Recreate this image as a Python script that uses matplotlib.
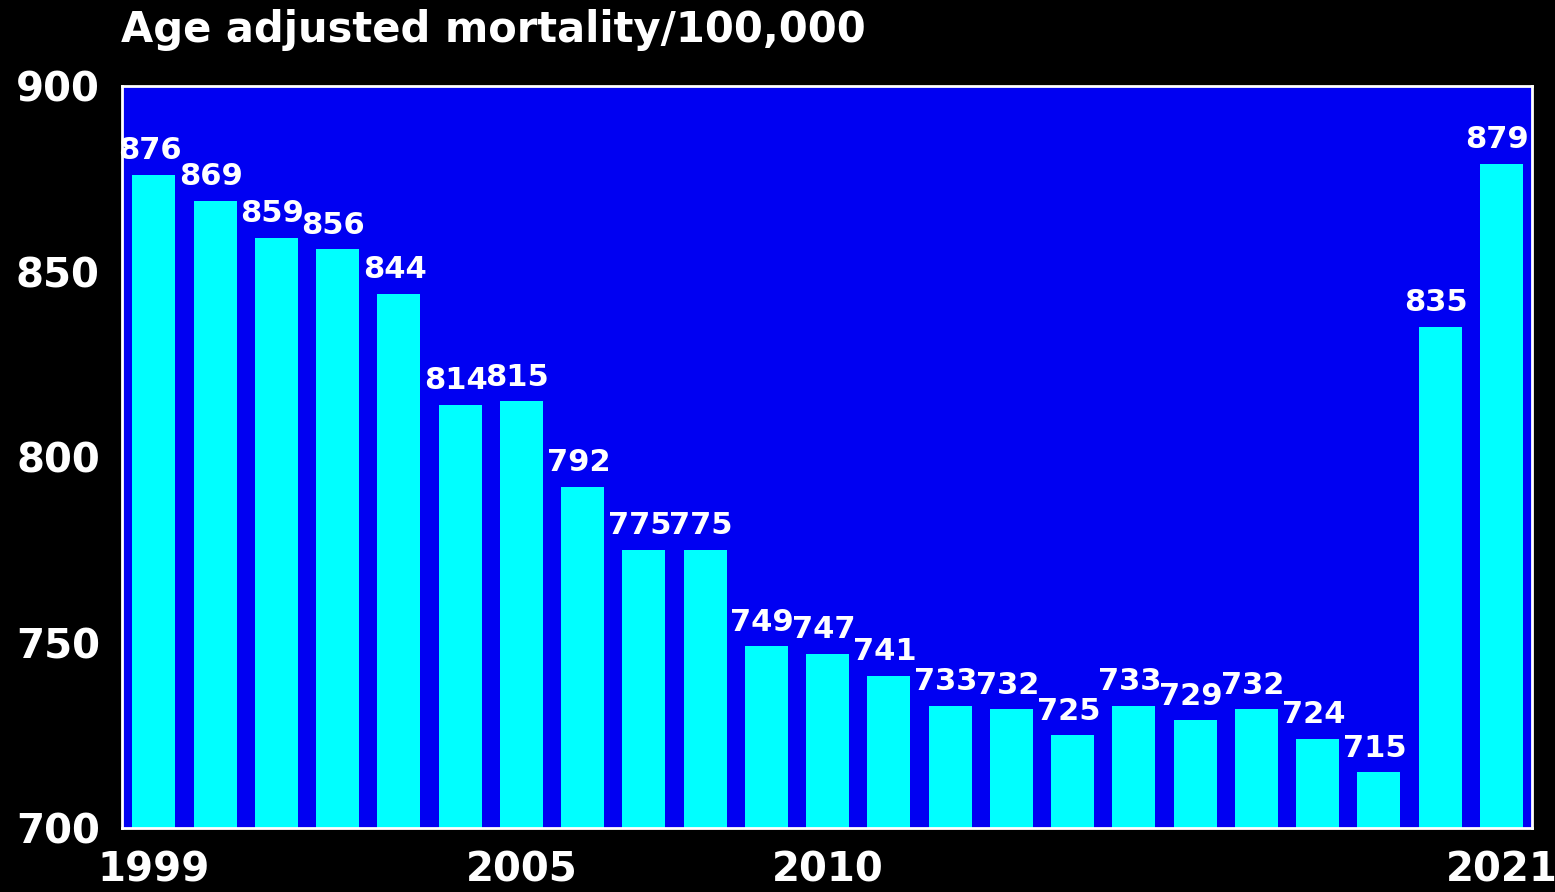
import numpy as np
import matplotlib.pyplot as plt

years = np.arange(1999, 2022)
mortality = [876, 869, 859, 856, 844, 814, 815, 792, 775, 775, 749, 747,
             741, 733, 732, 725, 733, 729, 732, 724, 715, 835, 879]
x_ticks = [1999, 2005, 2010, 2021]
y_ticks = [700, 750, 800, 850, 900]

fig = plt.figure(figsize=(15.55, 8.92), dpi=100, facecolor='black')
ax = fig.add_axes([0.0785, 0.0717, 0.9067, 0.8319])
ax.set_facecolor('#0000f2')

ax.bar(years, mortality, width=0.7, color='#00ffff', zorder=2)

# value labels above each bar
for yr, val in zip(years, mortality):
    ax.annotate(str(val), (yr, val), xytext=(-3, 7), textcoords='offset points',
                ha='center', va='bottom', color='white', fontsize=22,
                fontweight='bold', family='DejaVu Sans', zorder=3)

ax.set_xlim(1998.48, 2021.5)
ax.set_ylim(700, 900)
ax.set_xticks(x_ticks)
ax.set_yticks(y_ticks)
ax.tick_params(length=0, colors='white', labelsize=29, pad=16)
ax.tick_params(axis='x', pad=16)
for lbl in ax.get_xticklabels() + ax.get_yticklabels():
    lbl.set_family('DejaVu Sans')
    lbl.set_fontweight('bold')
for sp in ax.spines.values():
    sp.set_color('white')
    sp.set_linewidth(2)

fig.text(0.078, 0.966, 'Age adjusted mortality/100,000', color='white',
         fontsize=30, fontweight='bold', ha='left', va='center',
         family='DejaVu Sans')

fig.savefig('out.png', dpi=100, facecolor='black')
